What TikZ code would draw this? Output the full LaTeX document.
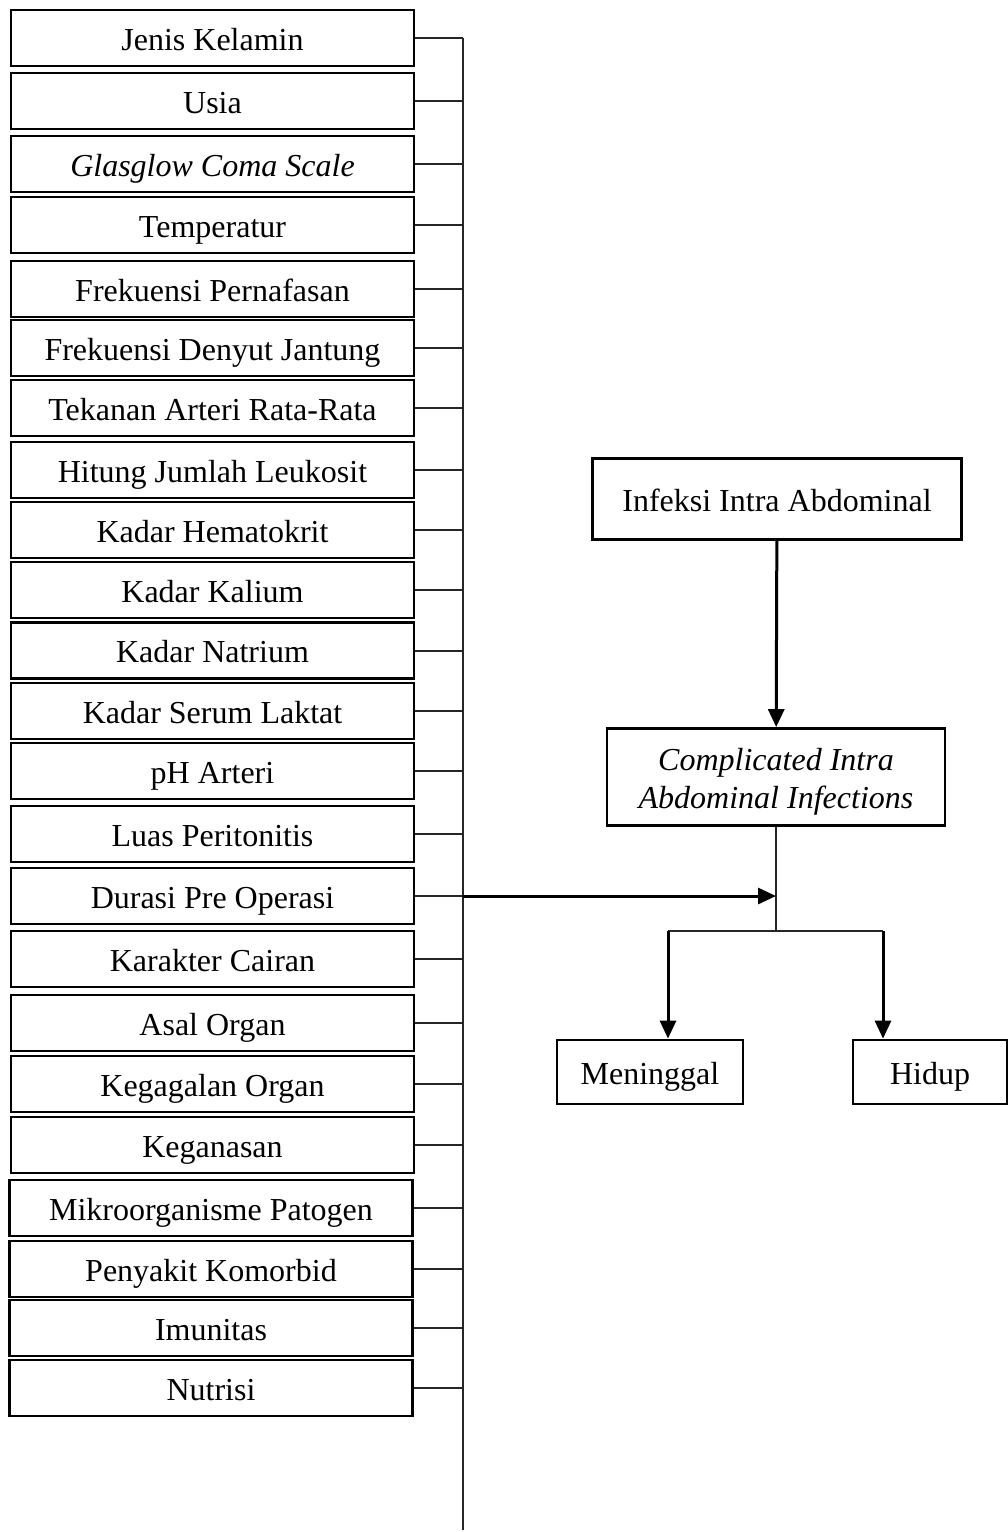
\documentclass[tikz,border=0pt]{standalone}
\usepackage{fontspec}
\setmainfont{Liberation Serif}
\usetikzlibrary{arrows.meta,calc,positioning}

\begin{document}
\begin{tikzpicture}
[
                  x =  1pt,
                  y = -1pt,
          >= {Triangle[length=18pt,width=16pt]},
    factor/.style = { draw=black, line width=2.8pt, rectangle, inner sep=0pt,
                      minimum width=403pt, minimum height=56pt,
                      text height=30pt, text depth=6pt,
                      font=\fontsize{32}{38}\selectfont },
     event/.style = { draw=black, line width=2.8pt, rectangle, inner sep=0pt,
                      text height=30pt, text depth=6pt,
                      align=center, font=\fontsize{32}{38}\selectfont },
    branch/.style = { draw=black!85, line width=2pt },
     arrow/.style = { draw=black, line width=3pt, -> }
]

    \useasboundingbox (0,0) rectangle (1008,1532);

    % faktor risiko
    \node (JenisKelamin)   at (212.5,   38) [factor] {Jenis Kelamin};
    \node (Usia)           at (212.5,  101) [factor] {Usia};
    \node (GCS)            at (212.5,  164) [factor] {\itshape Glasglow Coma Scale};
    \node (Temperatur)     at (212.5,  225) [factor] {Temperatur};
    \node (Pernafasan)     at (212.5,  289) [factor] {Frekuensi Pernafasan};
    \node (DenyutJantung)  at (212.5,  348) [factor] {Frekuensi Denyut Jantung};
    \node (TekananArteri)  at (212.5,  408) [factor] {Tekanan Arteri Rata-Rata};
    \node (Leukosit)       at (212.5,  470) [factor] {Hitung Jumlah Leukosit};
    \node (Hematokrit)     at (212.5,  530) [factor] {Kadar Hematokrit};
    \node (Kalium)         at (212.5,  590) [factor] {Kadar Kalium};
    \node (Natrium)        at (212.5,  650.5) [factor] {Kadar Natrium};
    \node (SerumLaktat)    at (212.5,  711) [factor] {Kadar Serum Laktat};
    \node (pHArteri)       at (212.5,  771) [factor] {pH Arteri};
    \node (Peritonitis)    at (212.5,  834) [factor] {Luas Peritonitis};
    \node (DurasiPreOp)    at (212.5,  896) [factor] {Durasi Pre Operasi};
    \node (Cairan)         at (212.5,  959) [factor] {Karakter Cairan};
    \node (AsalOrgan)      at (212.5, 1023) [factor] {Asal Organ};
    \node (GagalOrgan)     at (212.5, 1084) [factor] {Kegagalan Organ};
    \node (Keganasan)      at (212.5, 1145) [factor] {Keganasan};
    \node (Mikroorganisme) at (211,   1208) [factor] {Mikroorganisme Patogen};
    \node (Komorbid)       at (211,   1269) [factor] {Penyakit Komorbid};
    \node (Imunitas)       at (211,   1328) [factor] {Imunitas};
    \node (Nutrisi)        at (211,   1388) [factor] {Nutrisi};

    \coordinate (BusTop)    at (463,   38);
    \coordinate (BusBottom) at (463, 1530);

    % alur utama
    \node (Infeksi) at (777, 499)  [event, minimum width=369pt, minimum height=81pt] {Infeksi Intra Abdominal};
    \node (CIAI)    at (776, 777)  [event, minimum width=338pt, minimum height=97pt, text height=68pt]
                    {\itshape Complicated Intra\\\itshape Abdominal Infections};
    \node (Meninggal) at (650, 1072) [event, minimum width=186pt, minimum height=64pt] {Meninggal};
    \node (Hidup)     at (930, 1072) [event, minimum width=154pt, minimum height=64pt] {Hidup};

    \coordinate (Split)    at (776, 931);
    \coordinate (SplitL)   at (668, 931);
    \coordinate (SplitR)   at (883, 931);

    \draw [branch] (BusTop) -- (BusBottom);
    \draw [branch] (JenisKelamin.east)   -- (JenisKelamin.east -| BusTop);
    \draw [branch] (Usia.east)           -- (Usia.east -| BusTop);
    \draw [branch] (GCS.east)            -- (GCS.east -| BusTop);
    \draw [branch] (Temperatur.east)     -- (Temperatur.east -| BusTop);
    \draw [branch] (Pernafasan.east)     -- (Pernafasan.east -| BusTop);
    \draw [branch] (DenyutJantung.east)  -- (DenyutJantung.east -| BusTop);
    \draw [branch] (TekananArteri.east)  -- (TekananArteri.east -| BusTop);
    \draw [branch] (Leukosit.east)       -- (Leukosit.east -| BusTop);
    \draw [branch] (Hematokrit.east)     -- (Hematokrit.east -| BusTop);
    \draw [branch] (Kalium.east)         -- (Kalium.east -| BusTop);
    \draw [branch] (Natrium.east)        -- (Natrium.east -| BusTop);
    \draw [branch] (SerumLaktat.east)    -- (SerumLaktat.east -| BusTop);
    \draw [branch] (pHArteri.east)       -- (pHArteri.east -| BusTop);
    \draw [branch] (Peritonitis.east)    -- (Peritonitis.east -| BusTop);
    \draw [branch] (DurasiPreOp.east)    -- (DurasiPreOp.east -| BusTop);
    \draw [branch] (Cairan.east)         -- (Cairan.east -| BusTop);
    \draw [branch] (AsalOrgan.east)      -- (AsalOrgan.east -| BusTop);
    \draw [branch] (GagalOrgan.east)     -- (GagalOrgan.east -| BusTop);
    \draw [branch] (Keganasan.east)      -- (Keganasan.east -| BusTop);
    \draw [branch] (Mikroorganisme.east) -- (Mikroorganisme.east -| BusTop);
    \draw [branch] (Komorbid.east)       -- (Komorbid.east -| BusTop);
    \draw [branch] (Imunitas.east)       -- (Imunitas.east -| BusTop);
    \draw [branch] (Nutrisi.east)        -- (Nutrisi.east -| BusTop);

    \draw [arrow]  (Infeksi) -- (CIAI);
    \draw [branch] (CIAI.south) -- (Split);
    \draw [arrow]  (DurasiPreOp.east -| BusTop) -- (DurasiPreOp.east -| Split);
    \draw [branch] (SplitL) -- (SplitR);
    \draw [arrow]  (SplitL) -- (Meninggal.north -| SplitL);
    \draw [arrow]  (SplitR) -- (Hidup.north -| SplitR);

\end{tikzpicture}
\end{document}
